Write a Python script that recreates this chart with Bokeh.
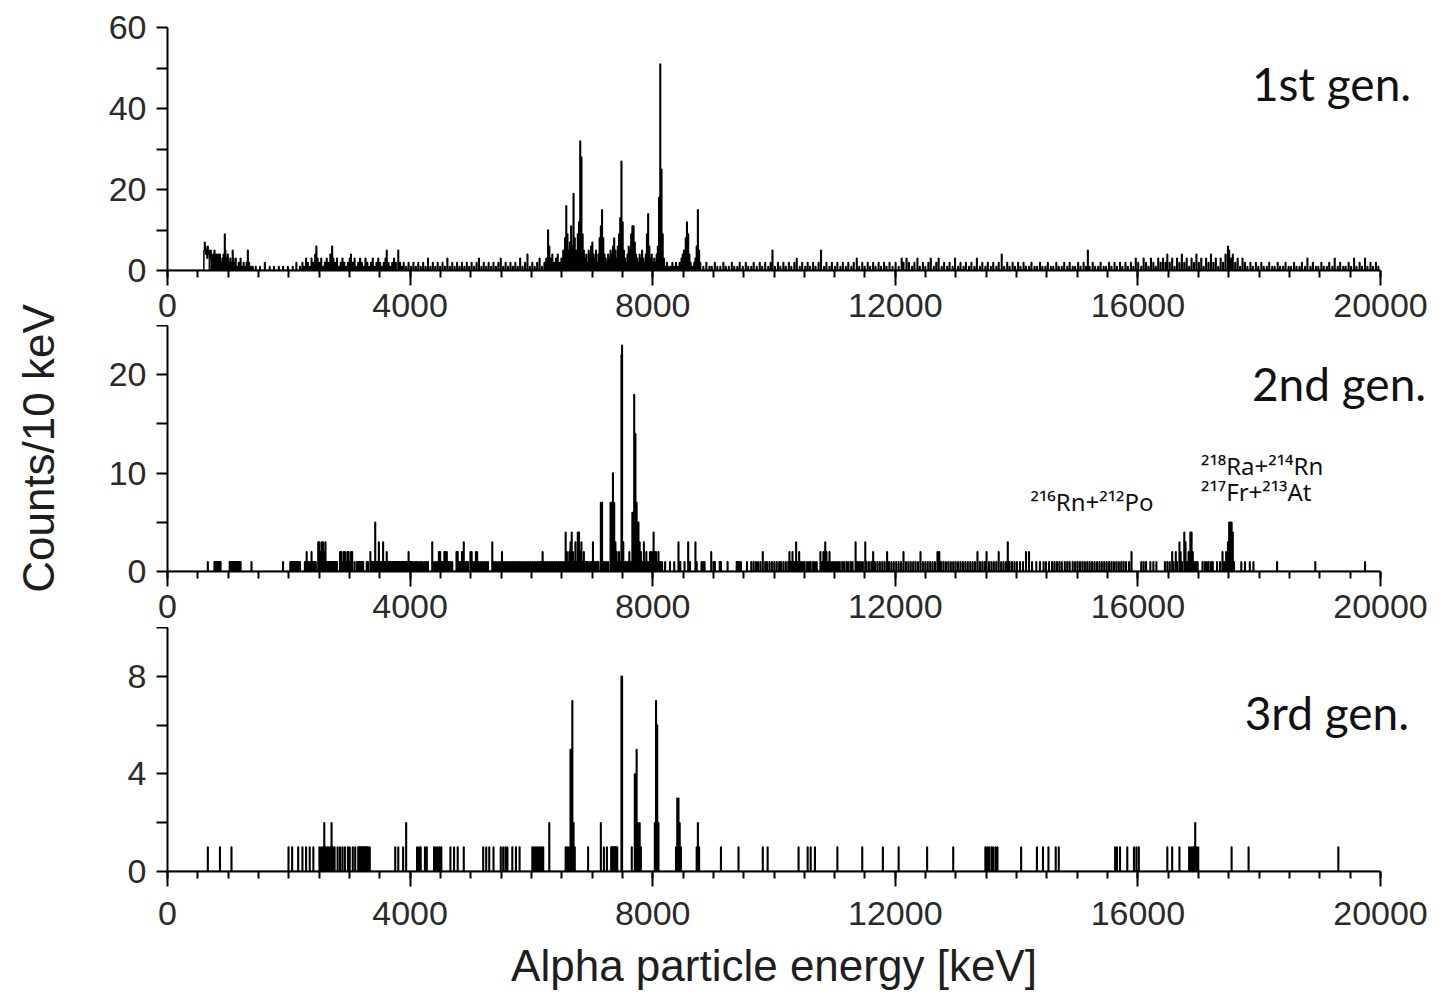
import math
import numpy as np
from bokeh.plotting import figure
from bokeh.layouts import column, row
from bokeh.models import Range1d, FixedTicker, Label
from bokeh.embed import file_html
from bokeh.resources import INLINE

# ---------------- data (bin start energy in keV, counts per 10 keV) ----------------
gen1_bins = [
    (600, 5), (610, 7), (620, 6), (630, 4), (640, 5), (650, 3), (660, 6), (670, 4), (680, 5), (700, 3),
    (710, 5), (720, 4), (740, 3), (750, 4), (770, 5), (780, 3), (800, 4), (820, 2), (830, 4), (850, 3),
    (860, 4), (880, 2), (900, 3), (920, 4), (940, 9), (950, 5), (970, 3), (990, 4), (1010, 2), (1030, 3),
    (1050, 2), (1070, 5), (1080, 3), (1100, 2), (1120, 3), (1150, 1), (1170, 2), (1200, 3), (1220, 1),
    (1250, 2), (1280, 1), (1300, 2), (1320, 5), (1340, 2), (1370, 1), (1400, 1),
    (1450, 1), (1520, 1), (1600, 2), (1680, 1), (1750, 1), (1830, 1), (1900, 1), (1980, 1), (2060, 1),
    (2120, 2), (2180, 1),
    (2220, 2), (2250, 1), (2280, 3), (2310, 2), (2340, 1), (2370, 3), (2400, 2), (2430, 4), (2450, 6),
    (2470, 3), (2500, 2), (2530, 3), (2560, 1), (2590, 2), (2620, 3), (2650, 2), (2680, 4), (2710, 6),
    (2730, 3), (2760, 2), (2790, 3), (2820, 1), (2850, 2), (2880, 3), (2910, 2), (2940, 1), (2970, 2),
    (3000, 3), (3020, 4), (3050, 2), (3080, 3), (3110, 1), (3140, 2), (3170, 3), (3200, 2), (3230, 1),
    (3260, 3), (3290, 2), (3320, 1), (3350, 2), (3380, 3), (3410, 1), (3440, 2), (3470, 3), (3500, 2),
    (3530, 1), (3560, 2), (3590, 3), (3610, 5), (3640, 2), (3670, 1), (3700, 2), (3730, 3), (3760, 2),
    (3800, 5), (3830, 2), (3860, 1), (3890, 2),
    (3930, 1), (3970, 2), (4010, 1), (4050, 2), (4090, 1), (4130, 2), (4170, 1), (4210, 2), (4250, 1),
    (4290, 3), (4330, 1), (4370, 2), (4410, 1), (4450, 2), (4490, 1), (4530, 2), (4570, 1), (4610, 3),
    (4650, 1), (4690, 2), (4730, 1), (4770, 2), (4810, 1), (4850, 2), (4890, 1), (4930, 2), (4970, 1),
    (5010, 2), (5050, 1), (5090, 2), (5130, 3), (5170, 1), (5210, 2), (5250, 1), (5290, 2), (5330, 1),
    (5370, 2), (5410, 1), (5450, 2), (5490, 3), (5530, 1), (5570, 2), (5610, 1), (5650, 2), (5690, 1),
    (5730, 2), (5770, 1), (5810, 3), (5850, 1), (5890, 2), (5930, 4), (5970, 1), (6010, 2), (6050, 1),
    (6090, 2), (6130, 3), (6170, 1), (6210, 2), (6240, 3),
    (6270, 10), (6290, 6), (6310, 3), (6340, 4), (6370, 2), (6400, 3), (6430, 4), (6460, 2), (6490, 3),
    (6520, 5), (6550, 8), (6570, 16), (6590, 9), (6610, 5), (6630, 7), (6650, 11), (6670, 6), (6690, 19),
    (6710, 8), (6730, 5), (6760, 9), (6780, 12), (6800, 32), (6820, 28), (6840, 9), (6860, 5), (6880, 3),
    (6900, 4), (6920, 2), (6940, 5), (6960, 4), (6980, 6), (7000, 7), (7020, 4), (7040, 3), (7060, 5),
    (7080, 2), (7100, 4), (7120, 8), (7140, 11), (7160, 15), (7180, 8), (7200, 4), (7220, 3), (7240, 2),
    (7260, 4), (7280, 3), (7300, 5), (7320, 4), (7340, 6), (7360, 8), (7380, 5), (7400, 3), (7420, 6),
    (7440, 9), (7460, 13), (7480, 27), (7500, 12), (7520, 5), (7540, 3), (7560, 2), (7580, 4), (7600, 6),
    (7620, 5), (7640, 9), (7660, 11), (7680, 11), (7700, 7), (7720, 4), (7740, 3), (7760, 2), (7780, 4),
    (7800, 3), (7820, 5), (7840, 3), (7860, 2), (7880, 4), (7900, 9), (7920, 14), (7940, 6), (7960, 3),
    (7980, 4), (8000, 2), (8020, 3), (8040, 2), (8060, 4), (8080, 6), (8100, 18), (8120, 51), (8140, 25),
    (8160, 9), (8180, 3), (8200, 1), (8230, 2), (8260, 1), (8290, 1), (8320, 2), (8350, 1), (8380, 2),
    (8410, 1), (8440, 2), (8470, 3), (8490, 4), (8510, 5), (8540, 8), (8560, 12), (8580, 9), (8600, 4),
    (8620, 2), (8650, 1), (8680, 2), (8700, 3), (8720, 6), (8740, 15), (8760, 5), (8780, 2),
    (8830, 1), (8880, 2), (8930, 1), (8970, 1), (9020, 2), (9060, 1), (9110, 1), (9160, 2), (9200, 1),
    (9250, 1), (9300, 2), (9340, 1), (9390, 1), (9430, 2), (9480, 1), (9530, 2), (9570, 1), (9620, 1),
    (9660, 2), (9710, 1), (9760, 2), (9800, 1), (9850, 2), (9900, 1), (9940, 2), (9970, 5), (10010, 1),
    (10060, 2), (10100, 1), (10150, 2), (10190, 1), (10240, 2), (10280, 1), (10330, 2), (10370, 3),
    (10420, 1), (10460, 2), (10510, 1), (10550, 2), (10590, 1), (10640, 2), (10680, 1), (10730, 2),
    (10770, 5), (10820, 1), (10860, 2), (10910, 1), (10950, 2), (11000, 1), (11040, 2), (11090, 1),
    (11130, 2), (11180, 1), (11220, 2), (11270, 1), (11310, 2), (11360, 3), (11400, 1), (11450, 2),
    (11490, 1), (11540, 2), (11580, 1), (11630, 2), (11670, 1), (11720, 2), (11760, 1), (11810, 2),
    (11850, 1), (11900, 2), (11950, 1), (12000, 2), (12050, 1), (12100, 3), (12130, 2), (12180, 3),
    (12220, 2), (12270, 1), (12310, 2), (12360, 3), (12400, 1), (12450, 2), (12490, 1), (12540, 2),
    (12580, 3), (12630, 1), (12670, 2), (12710, 3), (12760, 1), (12800, 2), (12850, 1), (12890, 2),
    (12940, 1), (12980, 3), (13030, 1), (13070, 2), (13120, 1), (13160, 2), (13210, 1), (13250, 2),
    (13300, 1), (13340, 3), (13390, 1), (13430, 2), (13480, 1), (13520, 2), (13570, 1), (13610, 2),
    (13660, 1), (13700, 2), (13750, 4), (13790, 1), (13840, 2), (13880, 1), (13930, 2), (13970, 1),
    (14020, 2), (14060, 1), (14110, 2), (14150, 1), (14200, 1), (14240, 2), (14290, 1), (14330, 1),
    (14380, 2), (14420, 1), (14470, 1), (14510, 2), (14560, 1), (14600, 1), (14650, 2), (14690, 1),
    (14740, 1), (14780, 2), (14830, 1), (14870, 2), (14920, 1), (14960, 1), (15010, 2), (15050, 1),
    (15100, 2), (15140, 1), (15170, 5), (15200, 1), (15250, 2), (15290, 1), (15340, 1), (15380, 2),
    (15430, 1), (15470, 1), (15520, 2), (15560, 1), (15610, 2), (15650, 1), (15700, 2), (15740, 1),
    (15790, 2), (15830, 1), (15880, 2), (15920, 1), (15960, 3), (16000, 2), (16050, 1), (16090, 3),
    (16130, 2), (16170, 1), (16210, 3), (16250, 2), (16290, 1), (16330, 3), (16370, 2), (16410, 3),
    (16450, 2), (16480, 4), (16520, 2), (16560, 3), (16600, 1), (16640, 3), (16680, 2), (16720, 4),
    (16760, 2), (16800, 3), (16840, 1), (16880, 3), (16920, 2), (16960, 4), (17000, 2), (17040, 3),
    (17080, 1), (17120, 3), (17160, 2), (17200, 4), (17240, 2), (17280, 3), (17320, 1), (17360, 3),
    (17400, 2), (17440, 4), (17480, 6), (17500, 5), (17530, 3), (17560, 4), (17600, 2), (17640, 3),
    (17680, 1), (17720, 3), (17760, 2), (17800, 1), (17850, 2), (17890, 1), (17940, 2), (17980, 1),
    (18030, 2), (18070, 1), (18120, 1), (18160, 2), (18210, 1), (18250, 1), (18300, 2), (18340, 1),
    (18390, 1), (18430, 2), (18480, 1), (18520, 1), (18570, 2), (18610, 1), (18660, 1), (18700, 2),
    (18750, 1), (18790, 3), (18840, 1), (18880, 2), (18930, 1), (18970, 1), (19020, 2), (19060, 1),
    (19110, 1), (19150, 2), (19200, 1), (19240, 3), (19290, 1), (19330, 2), (19380, 1), (19420, 1),
    (19470, 2), (19510, 1), (19560, 3), (19600, 1), (19650, 2), (19690, 1), (19740, 3), (19780, 1),
    (19830, 2), (19870, 1), (19920, 2), (19960, 1),
]

gen2_bins = [
    (660, 1), (770, 1), (790, 1), (810, 1), (830, 1), (850, 1), (870, 1),
    (1020, 1), (1040, 1), (1060, 1), (1080, 1), (1100, 1), (1120, 1), (1140, 1), (1160, 1), (1180, 1),
    (1200, 1), (1380, 1), (1900, 1),
    (2020, 1), (2040, 1), (2060, 1), (2080, 1), (2100, 1), (2120, 1), (2140, 1), (2160, 1), (2180, 1),
    (2260, 1), (2290, 2), (2320, 1), (2350, 1), (2370, 2), (2400, 1), (2420, 1), (2440, 1),
    (2480, 3), (2500, 3), (2520, 2), (2540, 3), (2560, 3), (2580, 2), (2600, 3),
    (2630, 1), (2650, 1), (2670, 1), (2690, 1), (2710, 1), (2730, 1), (2750, 1), (2770, 1), (2790, 1),
    (2840, 2), (2860, 2), (2880, 1), (2900, 2), (2920, 2), (2940, 1), (2960, 2), (2980, 2), (3000, 1),
    (3020, 2), (3040, 2), (3080, 1), (3120, 1), (3140, 1), (3160, 1), (3180, 1), (3200, 1), (3220, 1),
    (3280, 1), (3300, 1), (3340, 2), (3370, 1), (3390, 1),
    (3420, 5), (3440, 1), (3460, 1), (3480, 3), (3500, 1), (3520, 1), (3550, 3), (3570, 1), (3590, 1),
    (3610, 2), (3630, 1), (3650, 1), (3670, 1), (3690, 1), (3710, 1), (3730, 1), (3750, 1), (3770, 1),
    (3790, 1), (3810, 1), (3830, 1), (3850, 1), (3870, 1), (3890, 1), (3910, 1), (3930, 1), (3950, 1),
    (3970, 2), (3990, 1), (4010, 1), (4030, 1), (4060, 1), (4090, 1), (4110, 1), (4140, 1), (4170, 1),
    (4200, 1), (4230, 1), (4260, 1), (4290, 1),
    (4360, 3), (4380, 1), (4410, 1), (4440, 1), (4470, 2), (4490, 2), (4510, 1), (4530, 1), (4560, 2),
    (4580, 2), (4600, 2), (4630, 1), (4660, 1), (4690, 1),
    (4760, 2), (4780, 2), (4800, 1), (4820, 1), (4850, 2), (4880, 3), (4900, 1), (4920, 1), (4950, 1),
    (4990, 2), (5010, 2), (5030, 1), (5060, 1), (5080, 2), (5100, 2), (5130, 1), (5160, 1), (5190, 1),
    (5220, 1), (5250, 1), (5280, 1),
    (5350, 3), (5370, 1), (5400, 1), (5430, 1), (5460, 1), (5490, 1), (5510, 2), (5530, 1), (5560, 1),
    (5590, 1), (5620, 1), (5650, 1), (5680, 1), (5710, 1), (5740, 1), (5770, 1), (5800, 1), (5830, 1),
    (5860, 1), (5890, 1), (5920, 1), (5950, 1), (5980, 1), (6010, 1), (6040, 1), (6070, 1), (6100, 1),
    (6130, 1), (6150, 1), (6180, 2), (6200, 1), (6230, 1), (6260, 1), (6290, 1), (6320, 1), (6350, 1),
    (6380, 1), (6410, 1), (6440, 1), (6470, 1), (6500, 1), (6530, 1),
    (6560, 4), (6580, 2), (6600, 1), (6620, 2), (6640, 3), (6660, 4), (6680, 2), (6700, 1), (6720, 3),
    (6740, 1), (6760, 4), (6780, 4), (6800, 2), (6820, 3), (6840, 1), (6860, 2), (6880, 1), (6900, 1),
    (6920, 1), (6950, 1), (6980, 1), (7010, 3), (7030, 1), (7050, 1), (7080, 1), (7100, 1),
    (7140, 7), (7160, 7), (7180, 1), (7200, 1), (7230, 1), (7260, 1), (7300, 7), (7320, 7), (7340, 10),
    (7360, 7), (7380, 3), (7400, 2), (7420, 1), (7440, 2), (7460, 1), (7480, 22), (7490, 23), (7510, 3),
    (7530, 1), (7550, 1), (7580, 1), (7610, 2), (7640, 1), (7660, 6), (7690, 18), (7710, 14), (7730, 7),
    (7760, 5), (7780, 3), (7800, 2), (7820, 1), (7850, 3), (7870, 1), (7890, 2), (7920, 1), (7950, 2),
    (7980, 2), (8010, 4), (8030, 2), (8050, 2), (8070, 1), (8090, 2), (8120, 1), (8150, 1),
    (8200, 1), (8280, 1), (8350, 1), (8420, 3), (8450, 1), (8520, 1), (8580, 3), (8610, 1), (8700, 3),
    (8720, 1), (8800, 1), (8830, 1), (8850, 1), (8960, 2), (9000, 1), (9020, 1), (9100, 1), (9120, 1),
    (9230, 1), (9380, 1), (9400, 1), (9420, 1), (9450, 1),
    (9550, 1), (9620, 1), (9660, 1), (9700, 1), (9730, 1), (9770, 1), (9810, 2), (9850, 1), (9880, 1),
    (9920, 1), (9960, 1), (10000, 1), (10040, 1), (10080, 1), (10110, 1), (10150, 1), (10190, 1),
    (10230, 1), (10250, 2), (10270, 1), (10300, 2), (10330, 1), (10360, 3), (10380, 1), (10410, 2),
    (10440, 1), (10470, 1), (10500, 1), (10540, 1), (10570, 1), (10600, 1), (10640, 1), (10670, 1),
    (10700, 1), (10760, 2), (10790, 1), (10810, 2), (10840, 3), (10860, 2), (10880, 1), (10910, 2),
    (10930, 1), (10960, 1), (10990, 1), (11020, 1), (11050, 1), (11080, 1), (11120, 1), (11150, 1),
    (11190, 1), (11220, 1), (11260, 1), (11290, 1),
    (11340, 3), (11370, 1), (11400, 1), (11430, 1), (11460, 1), (11500, 3), (11520, 1), (11560, 1),
    (11600, 1), (11630, 2), (11660, 1), (11700, 1), (11740, 1), (11780, 1), (11820, 1), (11860, 2),
    (11890, 1), (11930, 1), (11970, 1), (12010, 1), (12050, 1), (12090, 1), (12130, 2), (12170, 1),
    (12210, 1), (12250, 1), (12290, 1), (12330, 1), (12370, 1), (12410, 2), (12450, 1), (12490, 1),
    (12530, 1), (12570, 1), (12610, 1), (12650, 1), (12690, 2), (12720, 2), (12750, 1), (12790, 1),
    (12830, 1), (12870, 1), (12910, 1), (12950, 1), (12990, 1), (13030, 1), (13070, 1), (13110, 1),
    (13150, 1), (13190, 1), (13230, 1), (13270, 1), (13310, 1), (13350, 2), (13390, 1), (13430, 1),
    (13470, 1), (13500, 2), (13540, 1), (13580, 1), (13620, 1), (13660, 1), (13700, 2), (13740, 1),
    (13780, 1), (13820, 1), (13850, 3), (13880, 1), (13920, 1), (13960, 1), (14000, 1),
    (14050, 1), (14100, 1), (14150, 2), (14200, 2), (14250, 1), (14320, 1), (14380, 1), (14440, 1),
    (14480, 1), (14530, 1), (14580, 1), (14620, 1), (14660, 1), (14700, 1), (14740, 1), (14790, 1),
    (14830, 1), (14870, 1), (14920, 1), (14960, 1), (15000, 1), (15040, 1), (15080, 1), (15120, 1),
    (15160, 1), (15200, 1), (15240, 1), (15280, 1), (15320, 1), (15360, 1), (15400, 1), (15440, 1),
    (15480, 1), (15520, 1), (15560, 1), (15600, 1), (15640, 1), (15680, 1), (15720, 1), (15760, 1),
    (15800, 1), (15850, 1), (15890, 2),
    (16050, 1), (16090, 1), (16130, 1), (16200, 1), (16250, 1), (16300, 1),
    (16440, 1), (16480, 1), (16520, 1), (16560, 2), (16580, 1), (16620, 2), (16640, 1), (16680, 3),
    (16700, 2), (16720, 1), (16760, 4), (16780, 3), (16800, 1), (16830, 2), (16860, 4), (16880, 4),
    (16900, 2), (16920, 1), (16950, 1), (16980, 1),
    (17060, 1), (17100, 1), (17130, 1), (17160, 1), (17200, 1), (17230, 1),
    (17300, 1), (17350, 1), (17390, 2), (17420, 1), (17450, 2), (17480, 3), (17500, 5), (17520, 5),
    (17540, 5), (17560, 4), (17580, 1),
    (17700, 1), (17760, 1), (17840, 1), (17900, 1), (18290, 1), (18920, 1), (19740, 1),
]

gen3_bins = [
    (660, 1), (860, 1), (1050, 1),
    (1990, 1), (2050, 1), (2150, 1), (2220, 1), (2280, 1), (2340, 1), (2400, 1),
    (2500, 1), (2530, 1), (2560, 1), (2580, 2), (2600, 1), (2630, 1), (2650, 1), (2680, 1), (2700, 2),
    (2720, 1), (2750, 1), (2800, 1), (2840, 1), (2880, 1), (2920, 1), (2970, 1), (3000, 1), (3050, 1),
    (3090, 1), (3140, 1), (3160, 1), (3180, 1), (3200, 1), (3220, 1), (3240, 1), (3260, 1), (3280, 1),
    (3300, 1), (3330, 1),
    (3750, 1), (3800, 1), (3880, 1), (3930, 2),
    (4110, 1), (4140, 1), (4170, 1), (4240, 1), (4270, 1),
    (4390, 1), (4420, 1), (4450, 1), (4480, 1), (4510, 1),
    (4660, 1), (4720, 1), (4780, 1), (4880, 1),
    (5200, 1), (5250, 1), (5300, 1), (5370, 1),
    (5490, 1), (5530, 1), (5570, 1), (5600, 1),
    (5680, 1), (5740, 1), (5800, 1),
    (6010, 1), (6040, 1), (6070, 1), (6100, 1), (6130, 1), (6160, 1), (6190, 1), (6290, 2),
    (6560, 1), (6590, 1), (6620, 1), (6640, 5), (6670, 7), (6690, 2), (6710, 1), (6930, 1),
    (7140, 2), (7190, 1), (7240, 1), (7310, 1), (7330, 1), (7350, 1), (7370, 1), (7390, 1), (7410, 1),
    (7480, 8), (7490, 8), (7650, 1), (7700, 4), (7730, 5), (7750, 2), (7780, 2), (7800, 1),
    (8030, 2), (8050, 7), (8070, 6), (8090, 2), (8380, 1), (8400, 3), (8420, 3), (8440, 2), (8460, 1),
    (8720, 1), (8740, 2), (8760, 1),
    (9120, 1), (9410, 1), (9810, 1), (9890, 1), (10400, 1), (10550, 1), (10600, 1), (10670, 1),
    (11040, 1), (11450, 1), (11790, 1), (12050, 1), (12520, 1), (12950, 1),
    (13480, 1), (13510, 1), (13540, 1), (13580, 1), (13610, 1), (13650, 1), (13680, 1),
    (14070, 1), (14330, 1), (14430, 1), (14520, 1), (14640, 1), (14690, 1),
    (15620, 1), (15650, 1), (15700, 1), (15820, 1), (15930, 1), (15970, 1), (16010, 1),
    (16480, 1), (16560, 1), (16680, 1), (16840, 1), (16870, 1), (16900, 1), (16920, 1), (16940, 2),
    (16960, 1), (16990, 1), (17540, 1), (17820, 1), (19300, 1),
]

bin_width_keV = 10
energy_max_keV = 20000
x_major_ticks = [0, 4000, 8000, 12000, 16000, 20000]
x_minor_ticks = list(range(0, 20001, 500))

panel_ymax = [60, 25, 10]
panel_yticks = [[0, 20, 40, 60], [0, 10, 20], [0, 4, 8]]
panel_yminor = [[10, 30, 50], [5, 15, 25], [2, 6, 10]]
panel_names = ["1st gen.", "2nd gen.", "3rd gen."]
panel_name_pos = [(17880, 46.2), (17880, 19.1), (17760, 6.5)]

isotope_labels = ["²¹⁶Rn+²¹²Po", "²¹⁸Ra+²¹⁴Rn", "²¹⁷Fr+²¹³At"]
isotope_pos = [(14230, 7.1), (17040, 10.8), (17040, 8.1)]

y_title = "Counts/10 keV"
x_title = "Alpha particle energy [keV]"

# ---------------- layout ----------------
TOTAL_W, TOTAL_H = 1439, 1003
YT_W = 70                      # strip holding the vertical title
W = TOTAL_W - YT_W
LEFT = 167 - YT_W
frame_w = W - LEFT
px_per_keV = 1213 / 20000
x_end = frame_w / px_per_keV
x_range = Range1d(0, x_end)

frame_h = [243, 246, 244]
tops = [27, 0, 0]
bottoms = [55, 56, 68]
label_standoff = [8, 8, 15]
XT_H = TOTAL_H - sum(t + f + b for t, f, b in zip(tops, frame_h, bottoms))

TICK_FONT = "Liberation Sans"
TICK_COLOR = "#2a2a2a"


def spectrum(bins):
    counts = np.zeros(energy_max_keV // bin_width_keV)
    for e, c in bins:
        counts[e // bin_width_keV] = c
    edges = np.arange(0, energy_max_keV, bin_width_keV)
    return edges, counts


def blank(width, height, xr, yr, left=0):
    f = figure(width=width, height=height, x_range=xr, y_range=yr,
               output_backend="svg", toolbar_location=None,
               x_axis_location=None, y_axis_location=None,
               min_border_left=left, min_border_right=0,
               min_border_top=0, min_border_bottom=0)
    f.grid.visible = False
    f.outline_line_color = None
    return f


figs = []
for i, bins in enumerate([gen1_bins, gen2_bins, gen3_bins]):
    p = figure(width=W, height=tops[i] + frame_h[i] + bottoms[i],
               x_range=x_range, y_range=Range1d(0, panel_ymax[i]),
               output_backend="svg", toolbar_location=None,
               min_border_left=LEFT, min_border_right=0,
               min_border_top=tops[i], min_border_bottom=bottoms[i])
    p.grid.visible = False
    p.outline_line_color = None
    p.background_fill_color = "white"
    p.border_fill_color = "white"

    edges, counts = spectrum(bins)
    p.step(edges, counts, mode="after", line_color="black", line_width=1.5)

    xa = p.xaxis[0]
    xa.ticker = FixedTicker(ticks=x_major_ticks, minor_ticks=x_minor_ticks)
    xa.bounds = (0, energy_max_keV)
    xa.axis_line_width = 2
    xa.major_tick_line_width = 2
    xa.minor_tick_line_width = 2
    xa.major_tick_out = 15
    xa.major_tick_in = 0
    xa.minor_tick_out = 7
    xa.minor_tick_in = 0
    xa.major_label_text_font = TICK_FONT
    xa.major_label_text_font_size = "34px"
    xa.major_label_text_color = TICK_COLOR
    xa.major_label_standoff = label_standoff[i]

    ya = p.yaxis[0]
    ya.ticker = FixedTicker(ticks=panel_yticks[i], minor_ticks=panel_yminor[i])
    ya.bounds = (0, panel_ymax[i])
    ya.axis_line_width = 2
    ya.major_tick_line_width = 2
    ya.minor_tick_line_width = 2
    ya.major_tick_out = 11
    ya.major_tick_in = 0
    ya.minor_tick_out = 11
    ya.minor_tick_in = 0
    ya.major_label_text_font = TICK_FONT
    ya.major_label_text_font_size = "34px"
    ya.major_label_text_color = TICK_COLOR
    ya.major_label_standoff = 10

    nx, ny = panel_name_pos[i]
    p.add_layout(Label(x=nx, y=ny, text=panel_names[i], text_font="Lato",
                       text_font_size="46px", text_color="#111111",
                       text_align="left", text_baseline="alphabetic"))
    figs.append(p)

# isotope annotations in 2nd generation panel
for txt, (ix, iy) in zip(isotope_labels, isotope_pos):
    figs[1].add_layout(Label(x=ix, y=iy, text=txt, text_font="Noto Sans",
                             text_font_size="24px", text_color="#111111",
                             text_align="left", text_baseline="alphabetic"))

# x title strip below the bottom panel (shares the energy scale)
xt = blank(W, XT_H, x_range, Range1d(0, XT_H), left=LEFT)
xt.add_layout(Label(x=energy_max_keV / 2, y=XT_H - 26, text=x_title,
                    text_font=TICK_FONT, text_font_size="44px",
                    text_color="#1e1e1e", text_align="center",
                    text_baseline="middle"))

# y title strip on the left
yt = blank(YT_W, TOTAL_H, Range1d(0, YT_W), Range1d(0, TOTAL_H))
yt.add_layout(Label(x=38, y=TOTAL_H - 448, text=y_title, angle=math.pi / 2,
                    text_font=TICK_FONT, text_font_size="44px",
                    text_color="#1e1e1e", text_align="center",
                    text_baseline="middle"))

layout = row(yt, column(*figs, xt, spacing=0), spacing=0)
open("out.html", "w").write(file_html(layout, INLINE))
